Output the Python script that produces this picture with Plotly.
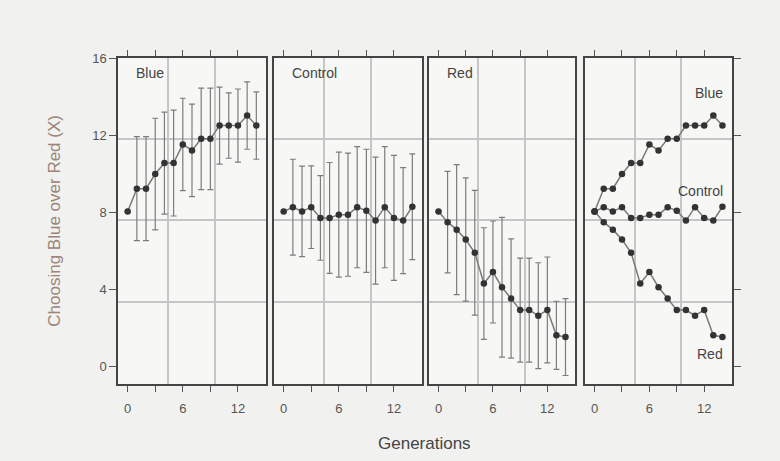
import plotly.graph_objects as go

generations = list(range(15))
tick_vals = [0, 3, 6, 9, 12]
tick_text = ["0", "", "6", "", "12"]
y_ticks = [0, 4, 8, 12, 16]

blue_mean = [8.05, 9.24, 9.24, 10.0, 10.57, 10.57, 11.54, 11.23, 11.83, 11.83, 12.52, 12.52, 12.52, 13.04, 12.52]
blue_err = [0, 2.7, 2.7, 2.9, 2.65, 2.75, 2.4, 2.4, 2.64, 2.64, 2.0, 1.7, 1.9, 1.75, 1.75]
control_mean = [8.05, 8.28, 8.06, 8.28, 7.72, 7.72, 7.89, 7.89, 8.28, 8.09, 7.58, 8.28, 7.72, 7.58, 8.3]
control_err = [0, 2.49, 2.35, 2.15, 2.2, 2.88, 3.25, 3.2, 3.15, 3.2, 3.3, 3.15, 3.25, 2.75, 2.75]
red_mean = [8.05, 7.5, 7.11, 6.6, 5.91, 4.31, 4.91, 4.12, 3.53, 2.93, 2.93, 2.64, 2.94, 1.62, 1.53]
red_err = [0, 2.64, 3.38, 3.2, 3.24, 2.9, 2.65, 3.63, 3.1, 2.7, 2.7, 2.75, 2.75, 1.77, 2.0]

panel_names = ["Blue", "Control", "Red"]
grid_x = [4.4, 9.5]
grid_y = [3.35, 7.6, 11.8]

FONT = "Liberation Sans, Arial, sans-serif"
fig = go.Figure()

panels = [(blue_mean, blue_err), (control_mean, control_err), (red_mean, red_err)]
for i, (m, e) in enumerate(panels):
    s = "" if i == 0 else str(i + 1)
    fig.add_trace(go.Scatter(
        x=generations, y=m, mode="lines+markers",
        error_y=dict(type="data", array=e, color="#7c7c7c", thickness=1.2, width=3),
        line=dict(color="#7a7a7a", width=1.5),
        marker=dict(color="#333333", size=6.5),
        xaxis="x" + s, yaxis="y" + s, showlegend=False,
    ))
    fig.add_trace(go.Scatter(
        x=generations, y=m, mode="lines+markers",
        line=dict(color="#7a7a7a", width=1.5),
        marker=dict(color="#333333", size=6.5),
        xaxis="x4", yaxis="y4", showlegend=False,
    ))

xdomains = [[0.1513, 0.3410], [0.3513, 0.5410], [0.5500, 0.7372], [0.7500, 0.9385]]
ydomain = [0.1692, 0.8872]
layout = dict(
    width=780, height=461,
    margin=dict(l=0, r=0, t=0, b=0),
    paper_bgcolor="#f1f1ef", plot_bgcolor="#f7f7f5",
    font=dict(family=FONT, color="#555555"),
    showlegend=False,
)
for i in range(4):
    s = "" if i == 0 else str(i + 1)
    layout["xaxis" + s] = dict(
        domain=xdomains[i], range=[-1.05, 15.05], anchor="y" + s,
        tickmode="array", tickvals=tick_vals, ticktext=tick_text,
        ticks="outside", ticklen=6, tickwidth=1.2, tickcolor="#555555",
        ticklabelstandoff=5,
        showline=True, linecolor="#444444", linewidth=1.5, mirror="ticks",
        showgrid=False, zeroline=False,
        minor=dict(tickmode="array", tickvals=grid_x, showgrid=True,
                   gridcolor="#c6c6c6", gridwidth=1.5, ticks=""),
        tickfont=dict(size=13, color="#555555", family=FONT),
    )
    yax = dict(
        domain=ydomain, range=[-0.92, 16.02], anchor="x" + s,
        tickmode="array", tickvals=y_ticks,
        showline=True, linecolor="#444444", linewidth=1.5, mirror=True,
        showgrid=False, zeroline=False,
        minor=dict(tickmode="array", tickvals=grid_y, showgrid=True,
                   gridcolor="#c6c6c6", gridwidth=1.5, ticks=""),
        tickfont=dict(size=13, color="#555555", family=FONT),
        showticklabels=(i == 0),
        ticks="outside" if i in (0, 3) else "",
        ticklen=7, tickwidth=1.2, tickcolor="#555555",
    )
    if i == 3:
        yax["side"] = "right"
    layout["yaxis" + s] = yax

annotations = []
for i, name in enumerate(panel_names):
    s = "" if i == 0 else str(i + 1)
    annotations.append(dict(
        text=name, xref="x%s domain" % s, yref="y%s domain" % s,
        x=0.11, y=0.955, xanchor="left", yanchor="middle", showarrow=False,
        font=dict(size=14, color="#444444", family=FONT),
    ))
label_y = [14.2, 9.1, 0.67]
for name, yy in zip(panel_names, label_y):
    annotations.append(dict(
        text=name, xref="x4", yref="y4", x=14.25, y=yy,
        xanchor="right", yanchor="middle", showarrow=False,
        font=dict(size=14, color="#444444", family=FONT),
    ))
annotations.append(dict(
    text="Choosing Blue over Red (X)", xref="paper", yref="paper",
    x=55 / 780, y=(461 - 217) / 461, textangle=-90, showarrow=False,
    xanchor="center", yanchor="middle",
    font=dict(size=17, color="#9c8478", family=FONT),
))
annotations.append(dict(
    text="Generations", xref="paper", yref="paper",
    x=425 / 780, y=(461 - 443) / 461, showarrow=False,
    xanchor="center", yanchor="middle",
    font=dict(size=17, color="#444444", family=FONT),
))
layout["annotations"] = annotations
fig.update_layout(**layout)
fig.write_html(
    "out.html",
    config={"displayModeBar": False},
    post_script="document.body.style.margin='0px';document.body.style.background='#f1f1ef';",
)
